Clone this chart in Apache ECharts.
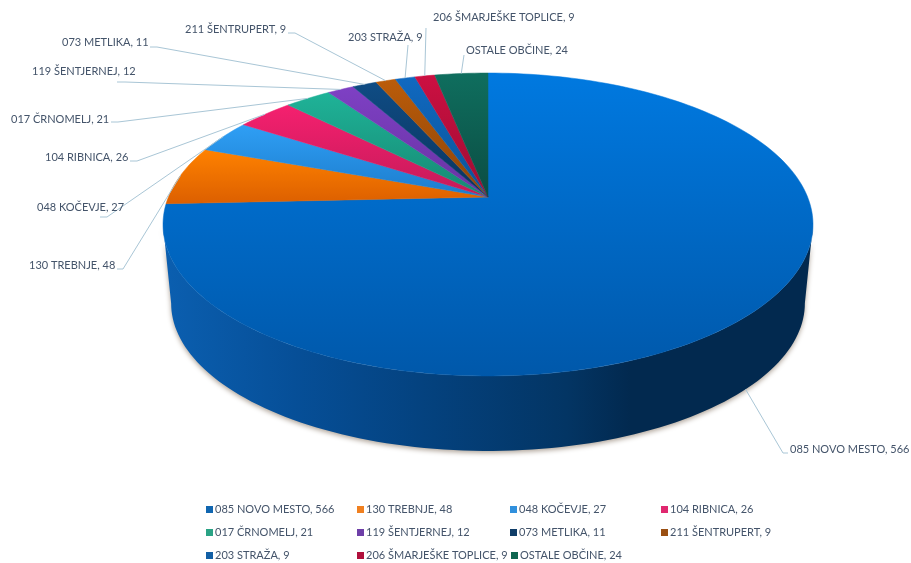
<!DOCTYPE html>
<html>
<head>
<meta charset="utf-8">
<style>
html, body { margin: 0; padding: 0; background: #fff; }
#chart { width: 911px; height: 563px; }
</style>
<script src="https://cdn.jsdelivr.net/npm/echarts@6/dist/echarts.min.js"></script>
</head>
<body>
<div id="chart"></div>
<script>
var names = ["085 NOVO MESTO", "130 TREBNJE", "048 KOČEVJE", "104 RIBNICA", "017 ČRNOMELJ", "119 ŠENTJERNEJ",
  "073 METLIKA", "211 ŠENTRUPERT", "203 STRAŽA", "206 ŠMARJEŠKE TOPLICE", "OSTALE OBČINE"];
var values = [566, 48, 27, 26, 21, 12, 11, 9, 9, 9, 24];
var topColors = ["#0079e0", "#ff8200", "#2f9ff5", "#f5206f", "#1fb398", "#7e40c4", "#0f4c84", "#bb5c0a", "#1069c0", "#cc1042", "#0f6e5e"];
var bottomColors = ["#0058aa", "#dc5f00", "#1c7ccc", "#c41a58", "#168872", "#6833a2", "#0a345e", "#8c4407", "#0b5398", "#9e0c32", "#0b4d43"];
var legendColors = ["#1066b0", "#f08020", "#3090dd", "#e0286f", "#2aa385", "#6e3fa8", "#0f3d68", "#9a4f12", "#125fa5", "#b0103c", "#0f6650"];

// [text x, text y, elbow x, elbow y, end x, end y]
var labelPos = [
  [790, 449, 783, 453, 788, 453],
  [29, 265, 123, 269, 117, 269],
  [37, 207, 107, 217, 100, 217],
  [45, 157, 137, 161, 130, 161],
  [11, 119, 118, 122, 111, 122],
  [32, 71, 125, 82, 117, 82],
  [62, 42, 157, 47, 150, 47],
  [185, 29, 295, 33, 288, 33],
  [348, 37, 408, 45, 408, 45],
  [433, 17, 426, 28, 426, 28],
  [466, 50, 464, 55, 464, 55]
];
// [square x, row y]
var legendPos = [
  [206, 509], [357, 509], [510, 509], [661, 509],
  [206, 532], [357, 532], [510, 532], [661, 532],
  [206, 555], [357, 555], [511, 555]
];

var cx = 488;
var persp = 0.1815;
var topPlane = { a: 319.6, b: 146.5, y0: 197 };
var basePlane = { a: 311.6, b: 142.8, y0: 276.5 };
var textColor = "#44546a";
var textFont = "11px Lato, 'Open Sans', sans-serif";

var total = 0;
for (var n = 0; n < values.length; n++) total += values[n];

function rimPoint(deg, plane) {
  var rad = deg * Math.PI / 180;
  var u = Math.sin(rad);
  var v = -Math.cos(rad);
  var w = 1 - persp * v;
  return [cx + plane.a * u / w, plane.y0 + plane.b * v / w];
}

function arcPoints(from, to, plane) {
  var pts = [];
  var steps = Math.max(2, Math.ceil(Math.abs(to - from) / 1.5));
  for (var i = 0; i <= steps; i++) {
    pts.push(rimPoint(from + (to - from) * i / steps, plane));
  }
  return pts;
}

// part of the rim that is turned to the viewer
var wallFrom = Math.acos(-persp) * 180 / Math.PI;
var wallTo = 360 - wallFrom;

function renderSlice(index) {
  return function (params, api) {
    var start = 0;
    for (var i = 0; i < index; i++) start += values[i] / total * 360;
    var end = start + api.value(0) / total * 360;
    var mid = (start + end) / 2;
    var children = [];

    var a = Math.max(start, wallFrom);
    var b = Math.min(end, wallTo);
    if (b > a) {
      children.push({
        type: "polygon",
        shape: { points: arcPoints(a, b, topPlane).concat(arcPoints(b, a, basePlane)) },
        style: {
          fill: new echarts.graphic.LinearGradient(0, 0, 1, 0, [
            { offset: 0, color: "#0b5fb0" },
            { offset: 0.2, color: "#064f98" },
            { offset: 0.4, color: "#04427f" },
            { offset: 0.62, color: "#033564" },
            { offset: 0.72, color: "#02294f" },
            { offset: 1, color: "#02294f" }
          ]),
          shadowBlur: 5,
          shadowOffsetY: 2,
          shadowColor: "rgba(110,90,70,0.55)"
        }
      });
    }

    var fill = new echarts.graphic.LinearGradient(0, 0, 0, 1, [
      { offset: 0, color: topColors[index] },
      { offset: 1, color: bottomColors[index] }
    ]);
    children.push({
      type: "polygon",
      shape: { points: [[cx, topPlane.y0]].concat(arcPoints(start, end, topPlane)) },
      style: { fill: fill, stroke: fill, lineWidth: 0.5 }
    });

    var pos = labelPos[index];
    var anchor = rimPoint(mid, mid > wallFrom && mid < wallTo ? basePlane : topPlane);
    children.push({
      type: "polyline",
      shape: { points: [anchor, [pos[2], pos[3]], [pos[4], pos[5]]] },
      style: { fill: null, stroke: "#a9c6d6", lineWidth: 1 }
    });
    children.push({
      type: "text",
      style: {
        text: names[index] + ", " + values[index],
        x: pos[0],
        y: pos[1],
        fill: textColor,
        font: textFont,
        textAlign: "left",
        textVerticalAlign: "middle"
      }
    });
    return { type: "group", children: children };
  };
}

var series = [];
var legends = [];
for (var s = 0; s < names.length; s++) {
  var label = names[s] + ", " + values[s];
  series.push({
    type: "custom",
    name: label,
    coordinateSystem: "none",
    silent: true,
    animation: false,
    itemStyle: { color: legendColors[s] },
    data: [[values[s]]],
    renderItem: renderSlice(s),
    z: s === 0 ? 1 : 2
  });
  legends.push({
    data: [label],
    left: legendPos[s][0],
    top: legendPos[s][1] - 5,
    padding: 0,
    itemWidth: 7,
    itemHeight: 7,
    itemGap: 2,
    icon: "rect",
    selectedMode: false,
    textStyle: { color: textColor, fontSize: 11, fontFamily: "Lato, 'Open Sans', sans-serif", padding: [0, 0, 0, -3] }
  });
}

var chart = echarts.init(document.getElementById("chart"));
chart.setOption({
  backgroundColor: "#ffffff",
  animation: false,
  legend: legends,
  series: series
});
</script>
</body>
</html>
